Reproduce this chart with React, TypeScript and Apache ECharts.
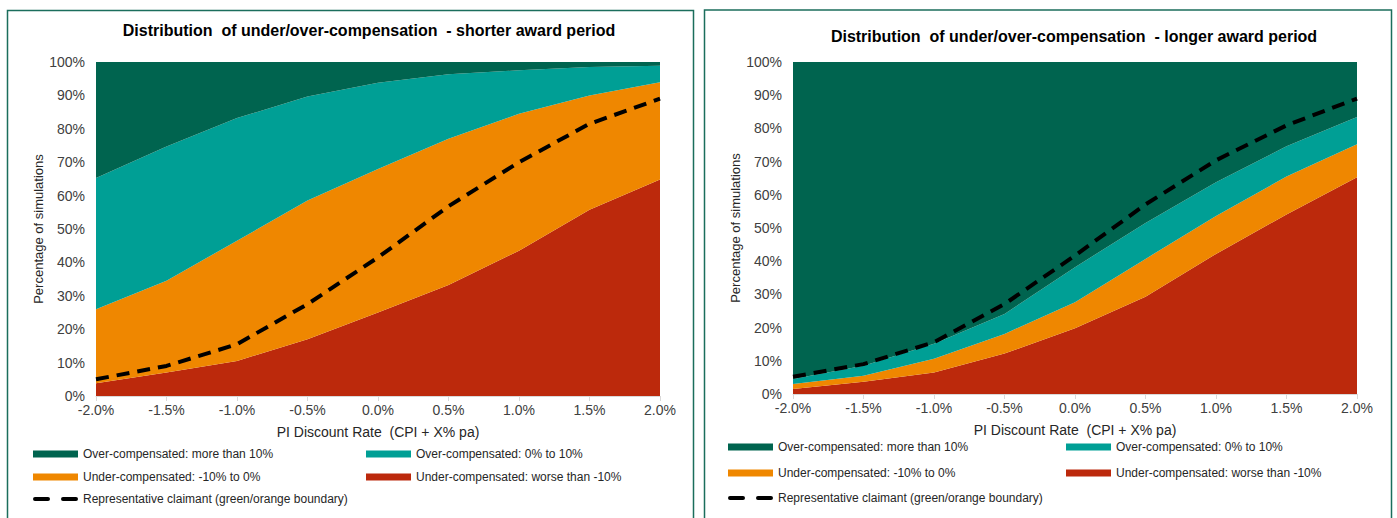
import React, { useEffect, useRef } from "react";
import * as echarts from "echarts";

const rates = ["-2.0%", "-1.5%", "-1.0%", "-0.5%", "0.0%", "0.5%", "1.0%", "1.5%", "2.0%"];

// Shorter award period (band sizes, % of simulations)
const shortWorse = [3.8, 7, 10.5, 17, 25, 33.2, 43.5, 55.8, 64.8];
const shortUnder = [22.2, 27.5, 36, 41.5, 43, 43.8, 41, 34.2, 29.1];
const shortOver = [39.3, 40.2, 36.7, 31.2, 25.8, 19.3, 13, 8.5, 5];
const shortMore = [34.7, 25.3, 16.8, 10.3, 6.2, 3.7, 2.5, 1.5, 1.1];
const shortRep = [5, 9, 15.5, 27.5, 41.5, 56.8, 70, 81.5, 89];

// Longer award period
const longWorse = [1.5, 3.7, 6.5, 12.2, 19.8, 29.3, 42.2, 54.1, 65.3];
const longUnder = [1.5, 1.8, 4.1, 5.9, 7.8, 11.4, 11.4, 11.4, 9.9];
const longOver = [1.5, 3, 4.5, 6, 10.6, 10.8, 10.2, 9.1, 8.2];
const longMore = [95.5, 91.5, 84.9, 75.9, 61.8, 48.5, 36.2, 25.4, 16.6];
const longRep = [5.2, 9, 15.6, 27.1, 41.7, 57.1, 70.4, 80.9, 89];

const titles = [
  "Distribution  of under/over-compensation  - shorter award period",
  "Distribution  of under/over-compensation  - longer award period",
];
const names = [
  "Over-compensated: more than 10%",
  "Over-compensated: 0% to 10%",
  "Under-compensated: -10% to 0%",
  "Under-compensated: worse than -10%",
  "Representative claimant (green/orange boundary)",
];
const colors = ["#00644F", "#009F95", "#EF8700", "#BC290C"];

const FONT = "'Liberation Sans', Arial, sans-serif";
const TXT = "#404040";

export default function App() {
  const ref = useRef<HTMLDivElement>(null);
  useEffect(() => {
    if (!ref.current) return;
    const chart = echarts.init(ref.current, null, { renderer: "svg" });

    const grids = [
      { left: 96, top: 62, width: 564, height: 334 },
      { left: 793, top: 62, width: 564, height: 332 },
    ];
    const datasets = [
      [shortWorse, shortUnder, shortOver, shortMore, shortRep],
      [longWorse, longUnder, longOver, longMore, longRep],
    ];

    const xAxis: any[] = [];
    const yAxis: any[] = [];
    const series: any[] = [];
    const legend: any[] = [];

    const legendPos = [
      { col: [33, 366], rows: [455, 478, 500] },
      { col: [728, 1066], rows: [448, 474, 499] },
    ];

    grids.forEach((g, i) => {
      xAxis.push({
        type: "category",
        gridIndex: i,
        data: rates,
        boundaryGap: false,
        name: "PI Discount Rate  (CPI + X% pa)",
        nameLocation: "middle",
        nameGap: 29,
        nameTextStyle: { color: "#262626", fontSize: 14, fontFamily: FONT },
        axisLine: { lineStyle: { color: "#d9d9d9", width: 1 } },
        axisTick: { show: true, length: 5, lineStyle: { color: "#d9d9d9" } },
        axisLabel: { color: TXT, fontSize: 14, fontFamily: FONT, margin: 7 },
        splitLine: { show: false },
        z: 10,
      });
      yAxis.push({
        type: "value",
        gridIndex: i,
        min: 0,
        max: 100,
        interval: 10,
        name: "Percentage of simulations",
        nameLocation: "middle",
        nameGap: 50,
        nameTextStyle: { color: "#262626", fontSize: 13, fontFamily: FONT },
        axisLine: { show: false },
        axisTick: { show: false },
        splitLine: { show: false },
        axisLabel: { color: TXT, fontSize: 14, fontFamily: FONT, formatter: "{value}%", margin: 11 },
      });
      const d = datasets[i];
      [0, 1, 2, 3].forEach((k) => {
        const nameIdx = 3 - k;
        series.push({
          type: "line",
          name: names[nameIdx],
          xAxisIndex: i,
          yAxisIndex: i,
          stack: "s" + i,
          data: d[k],
          symbol: "none",
          lineStyle: { width: 0 },
          areaStyle: { color: colors[nameIdx], opacity: 1 },
          itemStyle: { color: colors[nameIdx] },
          z: 2,
        });
      });
      series.push({
        type: "line",
        name: names[4],
        xAxisIndex: i,
        yAxisIndex: i,
        data: d[4],
        symbol: "none",
        lineStyle: { color: "#000", width: 4, type: [13, 8], cap: "butt" },
        itemStyle: { color: "#000" },
        z: 5,
      });

      const lp = legendPos[i];
      const items = [
        { n: 0, x: lp.col[0], y: lp.rows[0] },
        { n: 1, x: lp.col[1], y: lp.rows[0] },
        { n: 2, x: lp.col[0], y: lp.rows[1] },
        { n: 3, x: lp.col[1], y: lp.rows[1] },
        { n: 4, x: lp.col[0], y: lp.rows[2] },
      ];
      items.forEach((it) => {
        const isLine = it.n === 4;
        legend.push({
          data: [
            {
              name: names[it.n],
              icon: isLine
                ? "path://M2,0 H15 A2,2 0 0 1 15,4 H2 A2,2 0 0 1 2,0 Z M30,0 H43 A2,2 0 0 1 43,4 H30 A2,2 0 0 1 30,0 Z"
                : "rect",
              itemStyle: { color: isLine ? "#000" : colors[it.n], borderWidth: 0 },
            },
          ],
          left: it.x,
          top: it.y - 7,
          padding: 0,
          itemWidth: 45,
          itemHeight: isLine ? 4 : 7,
          selectedMode: false,
          textStyle: { color: "#262626", fontSize: 12, fontFamily: FONT },
        });
      });
    });

    const option: any = {
      animation: false,
      backgroundColor: "#ffffff",
      grid: grids.map((g) => ({ ...g, containLabel: false })),
      xAxis,
      yAxis,
      series,
      legend,
      graphic: [
        {
          type: "rect",
          shape: { x: 7.5, y: 10.5, width: 686, height: 520 },
          style: { fill: "none", stroke: "#1B6E5C", lineWidth: 1.5 },
          silent: true,
        },
        {
          type: "rect",
          shape: { x: 704.5, y: 10, width: 687, height: 520 },
          style: { fill: "none", stroke: "#1B6E5C", lineWidth: 1.5 },
          silent: true,
        },
        {
          type: "text",
          x: 369,
          y: 30,
          style: {
            text: titles[0],
            font: "bold 16px " + FONT,
            fill: "#000",
            textAlign: "center",
            textVerticalAlign: "middle",
          },
        },
        {
          type: "text",
          x: 1074,
          y: 36,
          style: {
            text: titles[1],
            font: "bold 16px " + FONT,
            fill: "#000",
            textAlign: "center",
            textVerticalAlign: "middle",
          },
        },
      ],
    };
    chart.setOption(option);
    return () => chart.dispose();
  }, []);

  return (
    <div
      ref={ref}
      style={{ position: "absolute", left: 0, top: 0, width: 1397, height: 518, background: "#fff" }}
    />
  );
}
